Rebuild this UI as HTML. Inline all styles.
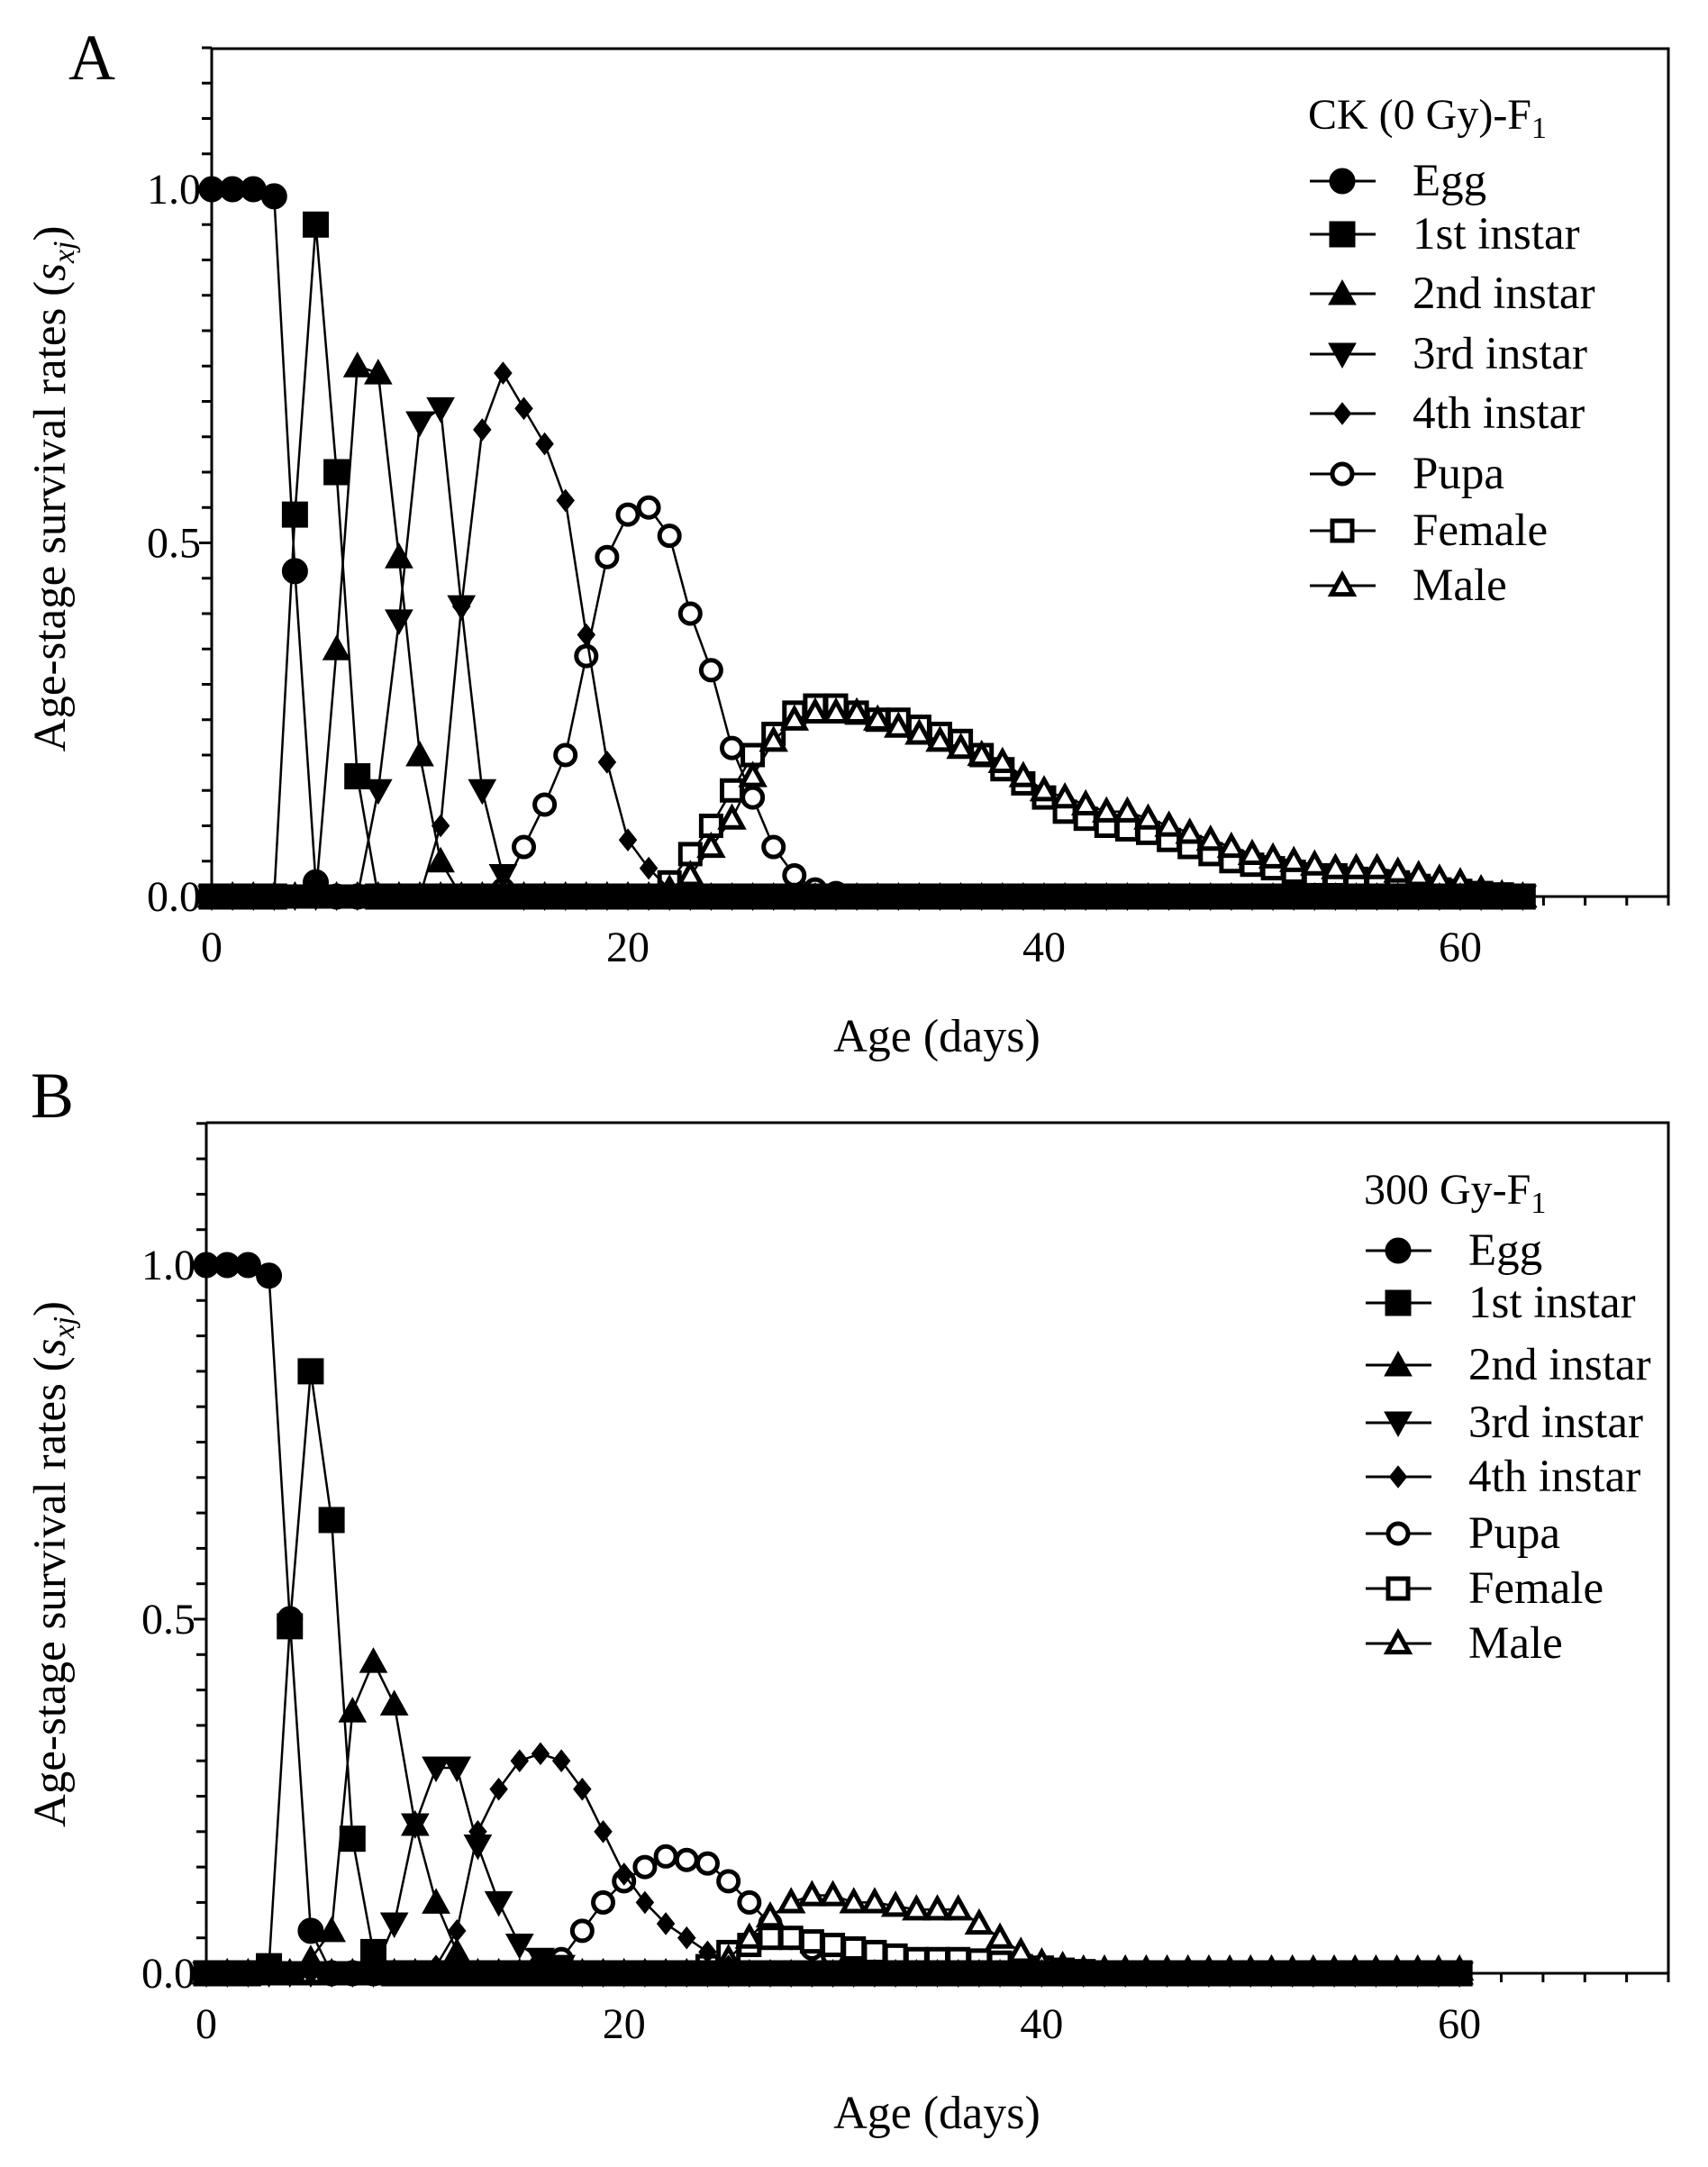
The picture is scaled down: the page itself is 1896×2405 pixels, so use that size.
<!DOCTYPE html>
<html><head><meta charset="utf-8"><style>
body{margin:0;background:#fff;}
svg{display:block;font-family:"Liberation Serif",serif;}
</style></head><body>
<svg id="chart" width="1896" height="2405" viewBox="0 0 1896 2405" xmlns="http://www.w3.org/2000/svg"></svg>
<script>
const stageNames = ["Egg","1st instar","2nd instar","3rd instar","4th instar","Pupa","Female","Male"];
const xTicks = [0,20,40,60];
const yTicks = [0.0,0.5,1.0];
const yTickLabels = ["0.0","0.5","1.0"];
// Panel A (CK 0 Gy) values per day: [startDay, values...]
const aEgg = [0,[1,1,1,0.99,0.46,0.02]];
const a1st = [3,[0.0,0.54,0.95,0.6,0.17,0.0]];
const a2nd = [5,[0,0.35,0.75,0.74,0.48,0.2,0.05,0]];
const a3rd = [7,[0,0.15,0.39,0.67,0.69,0.41,0.15,0.03,0]];
const a4th = [11,[0.1,0.41,0.66,0.74,0.69,0.64,0.56,0.37,0.19,0.08,0.04,0.01,0]];
const aPupa = [14,[0.01,0.07,0.13,0.2,0.34,0.48,0.54,0.55,0.51,0.4,0.32,0.21,0.14,0.07,0.03,0.01,0.005,0]];
const aFemale = [22,[0.02,0.06,0.1,0.15,0.2,0.23,0.26,0.27,0.27,0.26,0.25,0.25,0.24,0.23,0.22,0.2,0.18,0.16,0.14,0.12,0.11,0.1,0.095,0.09,0.08,0.07,0.06,0.05,0.045,0.04,0.035,0.03,0.03,0.025,0.02,0.02,0.015,0.01,0.008,0.005,0.003,0]];
const aMale = [22,[0.01,0.03,0.07,0.11,0.17,0.22,0.25,0.26,0.26,0.26,0.25,0.24,0.23,0.22,0.21,0.2,0.19,0.17,0.15,0.14,0.13,0.12,0.12,0.11,0.1,0.09,0.08,0.07,0.06,0.055,0.05,0.045,0.04,0.04,0.04,0.035,0.03,0.025,0.02,0.01,0.003,0]];
// Panel B (300 Gy)
const bEgg = [0,[1,1,1,0.985,0.5,0.06,0]];
const b1st = [3,[0.01,0.49,0.85,0.64,0.19,0.03,0]];
const b2nd = [5,[0.02,0.06,0.37,0.44,0.38,0.21,0.1,0.03,0]];
const b3rd = [8,[0,0.07,0.21,0.29,0.29,0.18,0.1,0.04,0.02,0.01,0]];
const b4th = [11,[0.01,0.06,0.2,0.26,0.3,0.31,0.3,0.26,0.2,0.14,0.1,0.07,0.05,0.03,0.01,0]];
const bPupa = [16,[0.01,0.02,0.06,0.1,0.13,0.15,0.165,0.16,0.155,0.13,0.1,0.07,0.05,0.035,0.025,0.02,0.015,0.01,0.008,0.005,0]];
const bFemale = [24,[0.01,0.03,0.04,0.05,0.05,0.045,0.04,0.035,0.03,0.025,0.02,0.02,0.02,0.018,0.015,0.01,0.008,0.005,0.003,0]];
const bMale = [25,[0.02,0.05,0.08,0.1,0.11,0.11,0.1,0.1,0.095,0.09,0.09,0.09,0.07,0.05,0.03,0.015,0.01,0.005,0.005,0.005,0.005,0.005,0.005,0.005,0.005,0.005,0.005,0.005,0.005,0.005,0.005,0.005,0.005,0.005,0.005,0.005]];

const NS="http://www.w3.org/2000/svg";
const svg=document.getElementById('chart');
function mk(tag,attrs,parent){const e=document.createElementNS(NS,tag);for(const k in attrs)e.setAttribute(k,attrs[k]);(parent||svg).appendChild(e);return e;}
const markerTypes=["circle","square","tri","tridown","diamond","ocircle","osquare","otri"];
function marker(g,type,cx,cy){
  const filled=!type.startsWith('o');
  const st={fill:filled?'#000':'#fff',stroke:'#000','stroke-width':filled?1:5};
  let el;
  if(type.endsWith('circle')) el=mk('circle',Object.assign({cx:cx,cy:cy,r:filled?14:11},st),g);
  else if(type.endsWith('square')){const s=filled?14:11;el=mk('rect',Object.assign({x:cx-s,y:cy-s,width:2*s,height:2*s},st),g);}
  else if(type==='tri'||type==='otri'){const s=filled?15:12;el=mk('polygon',Object.assign({points:`${cx},${cy-s} ${cx+s},${cy+s*0.8} ${cx-s},${cy+s*0.8}`},st),g);}
  else if(type==='tridown'){const s=15;el=mk('polygon',Object.assign({points:`${cx},${cy+s} ${cx+s},${cy-s*0.8} ${cx-s},${cy-s*0.8}`},st),g);}
  else if(type==='diamond'){const s=12;el=mk('polygon',Object.assign({points:`${cx},${cy-s} ${cx+s*0.8},${cy} ${cx},${cy+s} ${cx-s*0.8},${cy}`},st),g);}
  
  
}
function panel(cfg){
  const {L,R,T,Y0,Y1,lastDay,series,letter,lx,ly,title,legX,legTitleY,legYs,name}=cfg;
  const g=mk('g',{});
  
  
  const xs=d=>L+(R-L)*d/70;
  const ys=v=>Y0-(Y0-Y1)*v;
  const fr=mk('path',{d:`M${L},${T}H${R}V${Y0}M${L},${T}V${Y0}H${R}`,stroke:'#000','stroke-width':3,fill:'none'},g);
  
  
  for(let i=0;i<=24;i++){const v=i*0.05;const y=ys(v);const major=(i%10===0);
    const t=mk('line',{x1:L-(major?14:11),x2:L,y1:y,y2:y,stroke:'#000','stroke-width':3},g);
    
    }
  yTicks.forEach((v,i)=>{const t=mk('text',{x:L-12,y:ys(v)+16,'font-size':48,'text-anchor':'end'},g);t.textContent=yTickLabels[i];
    
    });
  for(let d=0;d<=70;d+=2){const x=xs(d);const major=(d%20===0);
    const t=mk('line',{x1:x,x2:x,y1:Y0,y2:Y0+(major?14:10),stroke:'#000','stroke-width':3},g);
    
    }
  xTicks.forEach(v=>{const t=mk('text',{x:xs(v),y:Y0+72,'font-size':48,'text-anchor':'middle'},g);t.textContent=String(v);
    
    });
  const xt=mk('text',{x:1040,y:Y0+172,'font-size':52,'text-anchor':'middle'},g);xt.textContent='Age (days)';
  
  
  const cy=(Y0+T)/2+18;
  const yt=mk('text',{x:0,y:0,'font-size':51,'text-anchor':'middle',transform:`translate(72,${cy}) rotate(-90)`},g);
  yt.innerHTML='Age-stage survival rates (<tspan font-style="italic">s</tspan><tspan font-style="italic" font-size="34" dy="10">xj</tspan><tspan dy="-10">)</tspan>';
  
  
  const lt=mk('text',{x:lx,y:ly,'font-size':72},g);lt.textContent=letter;
  
  
  // draw open-marker series first, filled series on top
  const order=[5,6,7,0,1,2,3,4];
  order.forEach(si=>{
    const s=series[si];
    const [start,vals]=s;const full=[];
    for(let d=0;d<=lastDay;d++){const k=d-start;full.push(k>=0&&k<vals.length?vals[k]:0);}
    const sg=mk('g',{},g);
    
    
    const pts=full.map((v,d)=>xs(d)+','+ys(v)).join(' ');
    const pl=mk('polyline',{points:pts,fill:'none',stroke:'#000','stroke-width':2.5},sg);
    
    
    full.forEach((v,d)=>marker(sg,markerTypes[si],xs(d),ys(v)));
  });
  const lg=mk('g',{},g);
  
  
  const tt=mk('text',{x:legX-2,y:legTitleY,'font-size':48},lg);
  tt.innerHTML=title+'<tspan font-size="34" dy="10">1</tspan>';
  
  
  stageNames.forEach((n,i)=>{const y=legYs[i];
    const eg=mk('g',{},lg);
    
    
    mk('line',{x1:legX,x2:legX+73,y1:y,y2:y,stroke:'#000','stroke-width':3},eg);
    marker(eg,markerTypes[i],legX+36,y);
    const t=mk('text',{x:legX+114,y:y+16,'font-size':51},eg);t.textContent=n;});
}
panel({name:'panel-a',L:235,R:1852,T:54,Y0:995,Y1:210,lastDay:63,series:[aEgg,a1st,a2nd,a3rd,a4th,aPupa,aFemale,aMale],
  letter:'A',lx:76,ly:88,title:'CK (0 Gy)-F',legX:1454,legTitleY:143,legYs:[201,260,326,393,459,526,589,650]});
panel({name:'panel-b',L:229,R:1852,T:1246,Y0:2190,Y1:1404,lastDay:60,series:[bEgg,b1st,b2nd,b3rd,b4th,bPupa,bFemale,bMale],
  letter:'B',lx:34,ly:1240,title:'300 Gy-F',legX:1516,legTitleY:1336,legYs:[1388,1446,1515,1579,1639,1702,1763,1824]});
</script>
</body></html>
